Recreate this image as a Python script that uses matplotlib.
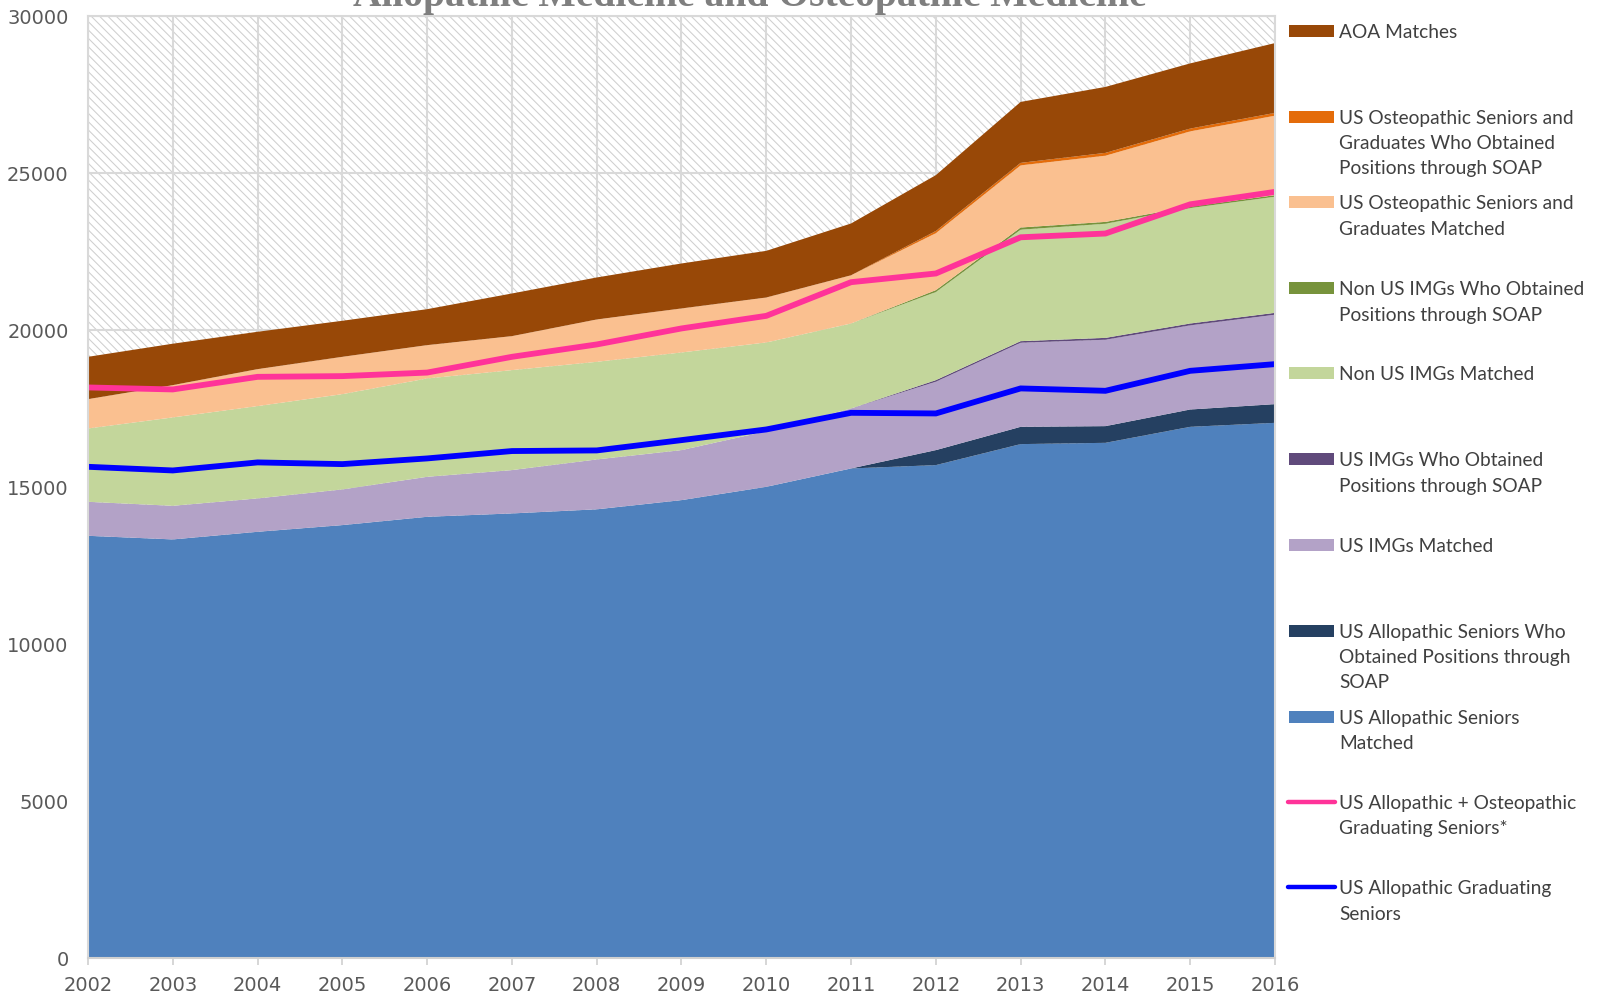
import matplotlib
matplotlib.use("Agg")
import matplotlib.pyplot as plt
from matplotlib.patches import Rectangle
from matplotlib.lines import Line2D

years = list(range(2002, 2017))
year_labels = [str(y) for y in years]
y_ticks = [0, 5000, 10000, 15000, 20000, 25000, 30000]

us_allo_matched = [13450, 13335, 13578, 13791, 14056, 14163, 14294, 14587, 15011, 15596, 15702, 16371, 16412, 16922, 17049]
us_allo_soap = [0, 0, 0, 0, 0, 0, 0, 0, 0, 0, 478, 551, 532, 552, 596]
us_img_matched = [1083, 1071, 1063, 1137, 1274, 1380, 1589, 1593, 1769, 1911, 2179, 2679, 2752, 2680, 2848]
us_img_soap = [0, 0, 0, 0, 0, 0, 0, 0, 0, 0, 50, 50, 60, 60, 60]
non_us_img_matched = [2337, 2815, 2940, 3035, 3133, 3185, 3110, 3111, 2829, 2707, 2807, 3551, 3635, 3676, 3699]
non_us_img_soap = [0, 0, 0, 0, 0, 0, 0, 0, 0, 0, 60, 70, 60, 50, 50]
osteo_matched = [934, 1029, 1179, 1189, 1061, 1083, 1349, 1402, 1433, 1536, 1814, 1979, 2108, 2394, 2531]
osteo_soap = [0, 0, 0, 0, 0, 0, 0, 0, 0, 0, 70, 80, 90, 90, 90]
aoa_matches = [1348, 1320, 1190, 1148, 1146, 1359, 1338, 1433, 1486, 1650, 1780, 1942, 2101, 2076, 2224]

allo_osteo_grad_seniors = [18176, 18113, 18514, 18537, 18650, 19152, 19546, 20056, 20457, 21530, 21807, 22960, 23080, 24010, 24407]
allo_grad_seniors = [15648, 15532, 15788, 15734, 15915, 16150, 16170, 16498, 16838, 17368, 17348, 18145, 18069, 18706, 18919]

area_series = [us_allo_matched, us_allo_soap, us_img_matched, us_img_soap,
               non_us_img_matched, non_us_img_soap, osteo_matched, osteo_soap, aoa_matches]
area_colors = ['#4F81BD', '#254061', '#B3A2C7', '#604A7B',
               '#C3D69B', '#77933C', '#FAC090', '#E46C0A', '#984807']

legend_entries = [
    ('patch', '#984807', ["AOA Matches"]),
    ('patch', '#E46C0A', ["US Osteopathic Seniors and", "Graduates Who Obtained", "Positions through SOAP"]),
    ('patch', '#FAC090', ["US Osteopathic Seniors and", "Graduates Matched"]),
    ('patch', '#77933C', ["Non US IMGs Who Obtained", "Positions through SOAP"]),
    ('patch', '#C3D69B', ["Non US IMGs Matched"]),
    ('patch', '#604A7B', ["US IMGs Who Obtained", "Positions through SOAP"]),
    ('patch', '#B3A2C7', ["US IMGs Matched"]),
    ('patch', '#254061', ["US Allopathic Seniors Who", "Obtained Positions through", "SOAP"]),
    ('patch', '#4F81BD', ["US Allopathic Seniors", "Matched"]),
    ('line', '#FF3399', ["US Allopathic + Osteopathic", "Graduating Seniors*"]),
    ('line', '#0000FF', ["US Allopathic Graduating", "Seniors"]),
]

W, H = 1600, 998
fig = plt.figure(figsize=(W / 100, H / 100), dpi=100)
plt.rcParams['hatch.linewidth'] = 0.75

def fx(x):
    return x / W

def fy(y):
    return 1 - y / H

ax = fig.add_axes([fx(88), fy(958), fx(1275) - fx(88), fy(16.3) - fy(958)])
ax.set_facecolor('white')
ax.add_patch(Rectangle((0, 0), 1, 1, transform=ax.transAxes, facecolor='white',
                       edgecolor='#cfcfcf', hatch='\\\\\\\\', lw=0, zorder=0.1))

ax.stackplot(years, *area_series, colors=area_colors, linewidth=0, zorder=2)
ax.plot(years, allo_osteo_grad_seniors, color='#FF3399', lw=4.2, zorder=3, solid_joinstyle='miter')
ax.plot(years, allo_grad_seniors, color='#0000FF', lw=4.2, zorder=3, solid_joinstyle='miter')

ax.set_xlim(2002, 2016)
ax.set_ylim(0, 30000)
ax.set_xticks(years)
ax.set_xticklabels(year_labels)
ax.set_yticks(y_ticks)
ax.set_yticklabels([str(v) for v in y_ticks])
ax.set_axisbelow(True)
ax.grid(True, color='#d9d9d9', lw=1.5, zorder=0.5)
for s in ax.spines.values():
    s.set_color('#d9d9d9')
    s.set_linewidth(1.5)
    s.set_zorder(4)
ax.spines['bottom'].set_color('#d0d0d0')
tick_font = ['Liberation Sans Narrow', 'DejaVu Sans']
ax.tick_params(axis='x', length=5, width=1.2, color='#d0d0d0', pad=8, labelsize=14, labelcolor='#595959')
ax.tick_params(axis='y', length=0, pad=14, labelsize=14, labelcolor='#595959')
for lab in ax.get_xticklabels() + ax.get_yticklabels():
    lab.set_family(tick_font)

fig.text(fx(750), fy(6), "Allopathic Medicine and Osteopathic Medicine", ha='center', va='baseline',
         fontsize=28.5, fontweight='bold', family='Liberation Serif', color='#7f7f7f')

# legend drawn manually
centers = [31, 116.7, 202.3, 288.3, 373.3, 459.3, 545, 630.7, 716.7, 801.7, 887.3]
for (kind, color, lines), yc in zip(legend_entries, centers):
    if kind == 'patch':
        fig.patches.append(Rectangle((fx(1289), fy(yc + 6)), fx(1334) - fx(1289), (12 / H),
                                     transform=fig.transFigure, facecolor=color, edgecolor='none'))
    else:
        fig.lines.append(Line2D([fx(1288), fx(1335)], [fy(yc), fy(yc)], transform=fig.transFigure,
                                color=color, lw=3.2, solid_capstyle='round'))
    for k, line in enumerate(lines):
        fig.text(fx(1339), fy(yc + 7 + k * 25.3), line, ha='left', va='baseline',
                 fontsize=13.8, family='Lato', color='#404040')

fig.savefig('out.png', dpi=100)
